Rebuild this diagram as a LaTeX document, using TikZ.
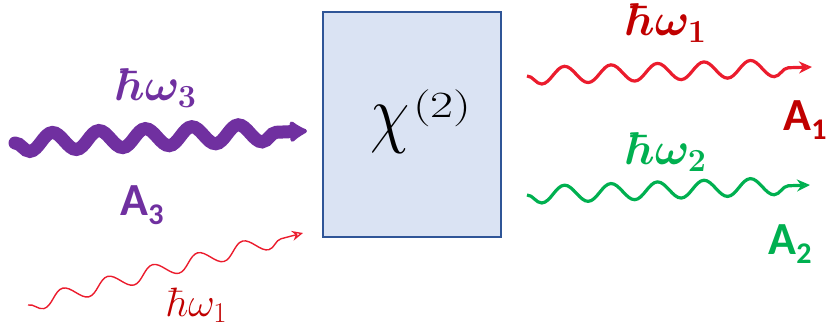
\RequirePackage{fix-cm}
\documentclass[tikz,border=0pt]{standalone}
\usepackage{fontspec}
\usepackage{graphicx}
\newfontfamily\calib{Carlito}
\usetikzlibrary{decorations.pathmorphing,arrows.meta}
\definecolor{boxfill}{HTML}{DAE3F3}
\definecolor{boxline}{HTML}{2F5597}
\definecolor{purp}{HTML}{7030A0}
\definecolor{wred}{HTML}{EB1C2D}
\definecolor{dred}{HTML}{C00000}
\definecolor{grn}{HTML}{00B050}
\begin{document}
\begin{tikzpicture}[x=1pt,y=-1pt,
  wave/.style={decorate,decoration={snake,mirror,amplitude=#1,segment length=46.5pt,post length=10pt}},
  lbl/.style={inner sep=0pt,outer sep=0pt},
  hw/.style={lbl,font=\fontsize{46}{50}\selectfont\boldmath},
  hwsmall/.style={lbl,font=\fontsize{41}{45}\selectfont},
  alab/.style={lbl,font=\calib\bfseries\fontsize{46}{50}\selectfont}]
\useasboundingbox (0,0) rectangle (828,328);
% crystal box
\node[draw=boxline,fill=boxfill,line width=2.5pt,minimum width=178pt,minimum height=225pt,inner sep=0pt] (box) at (412,124.5) {};
\node[lbl,anchor=base west] (chi) at (370,139) {\fontsize{64}{70}\selectfont\scalebox{1}[1.2]{$\chi$}\hspace{4pt}\raisebox{21pt}{\fontsize{37}{40}\selectfont\scalebox{1.35}[1]{(2)}}};
% pump wave
\coordinate (w3s) at (15,143);
\coordinate (w3e) at (307,131);
\draw[purp,line width=13pt,line cap=round,wave=9pt,-{Latex[round,length=20pt,width=26pt]}] (w3s) -- (w3e);
\node[hw,text=purp] (t3) at (157,88) {$\hbar\omega_3$};
\node[alab,text=purp] (a3) at (142,205) {A\raisebox{-9pt}{\fontsize{30}{30}\selectfont 3}};
% small seed wave
\coordinate (w0s) at (28,305);
\coordinate (w0e) at (303,233);
\draw[wred,line width=1.4pt,wave=7.5pt,-{Stealth[open,length=11pt,width=10pt]}] (w0s) -- (w0e);
\node[hwsmall,text=dred] (t0) at (197,305) {$\hbar\omega_1$};
% signal
\coordinate (w1s) at (527,76);
\coordinate (w1e) at (812,67);
\draw[wred,line width=3.2pt,wave=8.5pt,-{Stealth[open,length=13pt,width=12pt]}] (w1s) -- (w1e);
\node[hw,text=dred] (t1) at (667,23) {$\hbar\omega_1$};
\node[alab,text=dred] (a1) at (805,120) {A\raisebox{-9pt}{\fontsize{30}{30}\selectfont 1}};
% idler
\coordinate (w2s) at (527,195);
\coordinate (w2e) at (810,185);
\draw[grn,line width=3.2pt,wave=8.5pt,-{Stealth[open,length=13pt,width=12pt]}] (w2s) -- (w2e);
\node[hw,text=grn] (t2) at (667,152) {$\hbar\omega_2$};
\node[alab,text=grn] (a2) at (790,244) {A\raisebox{-9pt}{\fontsize{30}{30}\selectfont 2}};
\end{tikzpicture}
\end{document}
